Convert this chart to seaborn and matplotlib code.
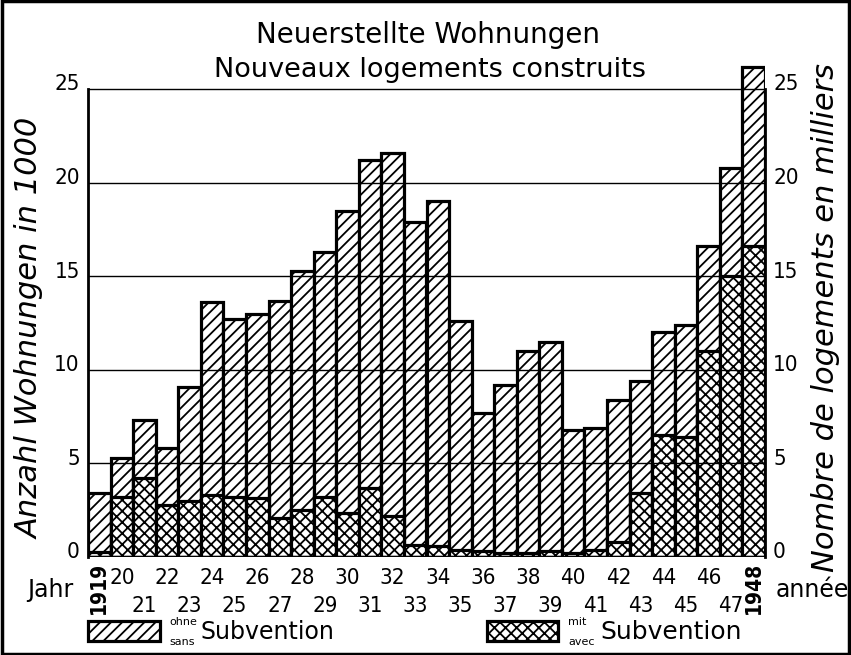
import matplotlib
matplotlib.use('Agg')
import matplotlib.pyplot as plt
import seaborn as sns
import numpy as np
import pandas as pd
from matplotlib.patches import Rectangle
from matplotlib.transforms import blended_transform_factory

# ---- data ----
years = list(range(1919, 1949))
total = [3.4, 5.3, 7.3, 5.8, 9.1, 13.6, 12.7, 13.0, 13.7, 15.3,
         16.3, 18.5, 21.2, 21.6, 17.9, 19.0, 12.6, 7.7, 9.2, 11.0,
         11.5, 6.8, 6.9, 8.4, 9.4, 12.0, 12.4, 16.6, 20.8, 26.2]
subsidized = [0.25, 3.2, 4.2, 2.8, 3.0, 3.3, 3.2, 3.15, 2.1, 2.5,
              3.2, 2.35, 3.7, 2.2, 0.65, 0.6, 0.4, 0.3, 0.2, 0.2,
              0.3, 0.2, 0.35, 0.8, 3.4, 6.5, 6.4, 11.0, 15.0, 16.6]
ytick_vals = [0, 5, 10, 15, 20, 25]
title_de = "Neuerstellte Wohnungen"
title_fr = "Nouveaux logements construits"
ylabel_de = "Anzahl Wohnungen in 1000"
ylabel_fr = "Nombre de logements en milliers"

df = pd.DataFrame({"year": years, "total": total, "sub": subsidized})

sns.set_style("white")
plt.rcParams['font.family'] = ['DejaVu Sans']
plt.rcParams['text.color'] = 'black'
plt.rcParams['hatch.linewidth'] = 1.3
plt.rcParams['hatch.color'] = 'black'

W, H = 851, 655
fig = plt.figure(figsize=(W / 100, H / 100), dpi=100)

def fx(px):
    return px / W

def fy(py):
    return 1 - py / H

y0_px, y25_px, ytop_px = 557, 89, 60
ppu = (y0_px - y25_px) / 25.0
ytop = (y0_px - ytop_px) / ppu
ax = fig.add_axes([fx(88), fy(y0_px), fx(765) - fx(88), fy(ytop_px) - fy(y0_px)])

sns.barplot(data=df, x="year", y="total", color="white", edgecolor="black",
            linewidth=2.3, width=1.0, hatch="///", saturation=1, ax=ax, zorder=2)
sns.barplot(data=df, x="year", y="sub", color="white", edgecolor="black",
            linewidth=2.3, width=1.0, hatch="xxx", saturation=1, ax=ax, zorder=2)

ax.set_xlim(-0.5, len(years) - 0.5)
ax.set_ylim(0, ytop)
for v in ytick_vals[1:]:
    ax.axhline(v, color="black", lw=1.0, zorder=3)
ax.axhline(0, color="black", lw=2.5, zorder=4)

ax.set_xlabel("")
ax.set_ylabel("")
ax.set_xticks([])
ax.set_yticks([])
for s in ["top", "bottom"]:
    ax.spines[s].set_visible(False)
for s in ["left", "right"]:
    ax.spines[s].set_bounds(0, 25)
    ax.spines[s].set_linewidth(2.0)
    ax.spines[s].set_color("black")

# y tick labels on both sides
ytr = blended_transform_factory(ax.transAxes, ax.transData)
for v in ytick_vals:
    ax.text(-0.012, v + 0.25, str(v), transform=ytr,
            ha="right", va="center", fontsize=16, fontstretch="condensed", color="black")
    ax.text(1.012, v + 0.25, str(v), transform=ytr,
            ha="left", va="center", fontsize=16, fontstretch="condensed", color="black")

# year labels
tr = blended_transform_factory(ax.transData, fig.transFigure)
for i, yr in enumerate(years):
    if i == 0 or i == len(years) - 1:
        ax.text(i, fy(588), str(yr), transform=tr, rotation=90, ha="center", va="center",
                fontsize=15, fontweight="bold", fontstretch="condensed")
    elif yr % 2 == 0:
        ax.text(i, fy(578), str(yr)[2:], transform=tr, ha="center", va="center",
                fontsize=16, fontstretch="condensed")
    else:
        ax.text(i, fy(606), str(yr)[2:], transform=tr, ha="center", va="center",
                fontsize=16, fontstretch="condensed")

fig.text(fx(50), fy(590), "Jahr", ha="center", va="center", fontsize=17)
fig.text(fx(812), fy(590), "année", ha="center", va="center", fontsize=17)

# titles
fig.text(fx(428), fy(35), title_de, ha="center", va="center", fontsize=20)
fig.text(fx(430), fy(70), title_fr, ha="center", va="center", fontsize=19.5)

# axis labels
fig.text(fx(30), fy(328), ylabel_de, rotation=90, ha="center", va="center",
         fontsize=22, style="italic")
fig.text(fx(826), fy(318), ylabel_fr, rotation=90, ha="center", va="center",
         fontsize=22, style="italic")

# legend
fig.patches.append(Rectangle((fx(88), fy(641)), fx(160) - fx(88), fy(621) - fy(641),
                             transform=fig.transFigure, facecolor="white", edgecolor="black",
                             lw=2.3, hatch="///"))
fig.text(fx(169), fy(622), "ohne", ha="left", va="center", fontsize=8)
fig.text(fx(169), fy(642), "sans", ha="left", va="center", fontsize=8)
fig.text(fx(200), fy(632), "Subvention", ha="left", va="center", fontsize=17)

fig.patches.append(Rectangle((fx(487), fy(641)), fx(558) - fx(487), fy(621) - fy(641),
                             transform=fig.transFigure, facecolor="white", edgecolor="black",
                             lw=2.3, hatch="xxx"))
fig.text(fx(568), fy(622), "mit", ha="left", va="center", fontsize=8)
fig.text(fx(568), fy(642), "avec", ha="left", va="center", fontsize=8)
fig.text(fx(600), fy(632), "Subvention", ha="left", va="center", fontsize=18)

# frame around figure
fig.patches.append(Rectangle((0.002, 0.002), 0.996, 0.996, transform=fig.transFigure,
                             facecolor="none", edgecolor="black", lw=2.5))

fig.savefig("out.png", dpi=100)
